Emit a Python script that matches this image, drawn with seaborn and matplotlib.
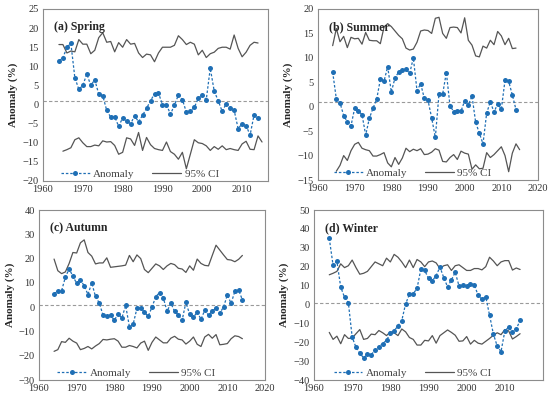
import numpy as np
import pandas as pd
import seaborn as sns
import matplotlib.pyplot as plt
from matplotlib.lines import Line2D

# years
years = list(range(1964, 2015))
years_lo_shift = list(range(1965, 2016))

# (a) Spring
spring_anom = [11.5, 12.2, 15.0, 16.0, 7.0, 4.0, 5.0, 8.0, 5.0, 6.5,
               2.7, 2.3, -1.5, -3.3, -3.2, -5.7, -3.5, -4.4, -5.0, -3.0,
               -4.5, -2.8, -1.0, 1.0, 2.8, 3.0, 0.0, 0.0, -2.5, -0.2,
               2.5, 1.3, -2.0, -1.8, -0.7, 1.6, 2.5, 1.3, 9.5, 3.5,
               1.0, -1.8, 0.2, -0.8, -1.5, -6.3, -5.0, -5.5, -8.0, -2.7, -3.5]
spring_up = [15.7, 15.7, 13.5, 14.0, 13.8, 17.0, 15.8, 15.8, 13.3, 14.2,
             17.5, 18.8, 16.3, 16.5, 13.8, 16.2, 15.0, 17.0, 15.8, 16.0,
             13.5, 12.3, 13.2, 13.0, 11.2, 13.5, 15.0, 15.0, 15.0, 15.5,
             18.0, 17.0, 15.7, 16.3, 15.8, 13.0, 14.2, 12.3, 13.3, 13.7,
             14.7, 15.0, 15.0, 14.5, 18.2, 14.7, 12.5, 13.7, 15.5, 16.3, 16.1]
spring_lo = [-12.2, -11.8, -11.3, -9.2, -8.7, -10.0, -11.0, -11.0, -10.6, -10.8,
             -9.5, -9.8, -9.7, -10.7, -13.0, -12.5, -8.7, -9.0, -10.7, -7.3,
             -12.0, -8.6, -10.5, -11.5, -11.8, -12.0, -9.8, -12.3, -13.0, -14.3,
             -12.5, -16.8, -13.0, -9.2, -10.0, -10.2, -10.8, -12.0, -11.0, -11.7,
             -10.8, -11.8, -11.5, -11.8, -12.0, -10.3, -9.6, -11.7, -11.8, -8.2, -9.8]

# (b) Summer
summer_anom = [7.1, 1.6, 0.8, -1.8, -3.1, -3.9, -0.3, -0.9, -1.6, -5.8,
               -2.4, -0.3, 1.5, 5.6, 5.2, 8.2, 3.0, 5.9, 7.1, 7.5,
               7.7, 6.8, 10.0, 3.3, 4.7, 1.7, 1.3, -2.3, -6.3, 2.6,
               2.6, 7.0, 0.2, -1.0, -0.8, -0.9, 1.2, 0.3, 2.2, -3.2,
               -5.4, -7.6, -1.3, 1.0, -1.1, 0.6, -0.5, 5.4, 5.2, 2.4, -0.6]
summer_up = [12.5, 16.0, 13.3, 14.4, 12.1, 14.2, 13.9, 14.0, 12.8, 15.2,
             13.6, 13.5, 13.5, 12.9, 16.3, 17.0, 16.4, 15.5, 14.6, 13.9,
             12.0, 11.6, 11.8, 13.2, 15.5, 15.7, 15.6, 15.0, 18.1, 18.3,
             15.0, 14.0, 16.2, 16.3, 16.2, 15.1, 18.2, 13.6, 12.6, 10.4,
             10.2, 12.4, 12.0, 13.6, 12.7, 15.4, 14.5, 12.7, 14.0, 11.9, 12.0]
summer_lo = [-13.2, -12.0, -10.0, -11.0, -9.0, -7.7, -7.3, -8.5, -8.8, -9.0,
             -10.1, -10.1, -9.8, -9.4, -11.5, -12.3, -10.4, -11.8, -10.5, -8.5,
             -9.2, -8.7, -9.0, -8.6, -9.8, -9.7, -9.3, -8.6, -8.9, -11.2,
             -11.3, -10.4, -9.8, -10.8, -9.1, -9.5, -9.7, -12.8, -11.9, -12.7,
             -12.6, -9.4, -10.4, -9.8, -9.0, -8.2, -10.0, -13.3, -9.5, -7.6, -8.8]

# (c) Autumn
autumn_anom = [5.5, 6.7, 6.8, 12.3, 15.8, 12.7, 9.8, 11.2, 8.8, 5.2,
               10.0, 4.4, 1.7, -3.3, -3.5, -3.3, -5.4, -2.8, -4.5, 0.7,
               -8.0, -7.0, -0.5, -0.2, -2.2, -3.7, 0.0, 4.3, 6.0, 3.8,
               -1.7, 1.6, -1.7, -3.2, -5.4, 2.0, -3.0, -4.2, -2.0, -5.0,
               -1.3, -3.3, -1.6, -0.4, -2.5, 0.1, 5.0, 1.6, 6.5, 7.0, 3.0]
autumn_up = [19.8, 15.0, 13.8, 14.5, 18.0, 22.5, 22.3, 26.5, 27.7, 22.5,
             21.0, 17.8, 18.2, 18.2, 20.3, 16.4, 16.6, 16.8, 17.0, 17.3,
             21.3, 18.7, 21.5, 20.0, 15.5, 14.2, 16.0, 17.8, 17.0, 15.5,
             17.0, 18.0, 17.5, 16.0, 15.7, 14.3, 17.0, 15.2, 19.8, 18.0,
             17.2, 17.0, 21.3, 25.5, 23.5, 21.5, 19.6, 19.4, 18.7, 19.7, 21.3]
autumn_lo = [-18.2, -17.5, -14.2, -14.5, -12.8, -14.0, -14.8, -17.5, -17.0, -16.2,
             -17.2, -16.0, -15.0, -13.3, -13.5, -13.2, -13.0, -14.0, -16.5, -16.5,
             -15.8, -16.2, -16.8, -14.8, -14.0, -17.8, -14.5, -12.3, -13.5, -14.7,
             -14.7, -12.8, -12.0, -13.2, -13.5, -15.2, -14.0, -12.3, -15.3, -16.2,
             -12.3, -11.2, -12.8, -11.3, -15.5, -15.3, -15.0, -13.0, -11.8, -12.1, -13.0]

# (d) Winter
winter_anom = [35.0, 20.7, 22.8, 9.2, 3.8, 1.0, -17.3, -22.7, -25.8, -28.3,
               -26.3, -26.5, -24.3, -22.3, -20.7, -19.0, -15.3, -14.0, -11.3, -8.5,
               0.3, 5.3, 5.7, 8.5, 18.7, 18.0, 13.8, 12.5, 15.3, 19.8,
               14.2, 9.3, 13.0, 17.0, 9.8, 10.3, 9.8, 11.0, 10.4, 4.8,
               2.8, 4.0, -5.7, -15.7, -22.0, -25.0, -14.0, -12.0, -14.6, -13.0, -8.4]
winter_up = [15.7, 16.5, 17.5, 21.5, 19.5, 20.5, 23.5, 19.5, 16.0, 16.5,
             17.5, 20.0, 22.5, 21.5, 20.5, 24.5, 22.5, 26.5, 25.0, 22.5,
             19.5, 23.5, 19.5, 23.8, 22.5, 20.0, 22.5, 23.0, 22.0, 19.0,
             20.5, 21.0, 18.0, 20.5, 21.0, 19.5, 18.0, 18.0, 19.0, 19.0,
             18.3, 20.0, 25.0, 23.0, 20.5, 22.5, 23.2, 23.2, 18.2, 19.3, 18.5]
winter_lo = [-14.8, -18.5, -16.8, -20.8, -16.0, -18.0, -17.8, -15.5, -13.3, -18.5,
             -18.0, -15.7, -16.0, -13.8, -15.0, -16.5, -14.5, -15.0, -16.5, -13.0,
             -14.5, -17.5, -18.5, -21.5, -21.5, -19.0, -19.3, -16.5, -20.5, -16.5,
             -15.0, -13.5, -14.8, -16.3, -19.5, -19.3, -17.0, -21.0, -19.0, -20.5,
             -21.0, -19.5, -18.0, -16.3, -15.0, -16.0, -13.3, -14.0, -18.3, -17.0, -15.5]

titles = ["(a) Spring", "(b) Summer", "(c) Autumn", "(d) Winter"]
ylims = [(-20, 25, 5), (-15, 20, 5), (-30, 40, 10), (-40, 50, 10)]
xmax = [2016.5, 2020, 2020, 2020]
xticks = [range(1960, 2011, 10), range(1960, 2021, 10),
          range(1960, 2021, 10), range(1960, 2011, 10)]

panels = [
    (spring_anom, spring_up, spring_lo, years_lo_shift),
    (summer_anom, summer_up, summer_lo, years_lo_shift),
    (autumn_anom, autumn_up, autumn_lo, years),
    (winter_anom, winter_up, winter_lo, years),
]

sns.set_style("white")
plt.rcParams['font.family'] = ['Liberation Serif', 'DejaVu Serif']

blue = "#1f6fb5"
gray = "#555555"

fig = plt.figure(figsize=(5.5, 3.97), dpi=100)
# axes rects in pixels: left, top, right, bottom
rects = [(43, 9, 268, 181), (318, 9, 538, 180), (39, 210, 265, 380), (314, 210, 543, 380)]

for i, (anom, up, lo, lo_years) in enumerate(panels):
    l, t, r, b = rects[i]
    ax = fig.add_axes([l / 550, 1 - b / 397, (r - l) / 550, (b - t) / 397])

    sns.lineplot(x=years, y=up, ax=ax, color=gray, linewidth=0.9)
    sns.lineplot(x=lo_years, y=lo, ax=ax, color=gray, linewidth=0.9)
    ax.axhline(1, color="#9a9a9a", linestyle=(0, (3, 2)), linewidth=0.8)
    sns.lineplot(x=years, y=anom, ax=ax, color=blue, linewidth=0.9,
                 linestyle=(0, (2, 1.5)), marker="o", markersize=3.6,
                 markeredgewidth=0, markeredgecolor=blue)

    y0, y1, step = ylims[i]
    ax.set_ylim(y0, y1)
    ax.set_yticks(range(y0, y1 + 1, step))
    ax.set_xlim(1960, xmax[i])
    ax.set_xticks(list(xticks[i]))
    ax.tick_params(axis="both", labelsize=7.5, length=0, pad=3, colors="#333333")
    ax.set_ylabel("Anomaly (%)", fontsize=8, fontweight="bold", labelpad=3)
    ax.set_xlabel("")
    for s in ax.spines.values():
        s.set_color("#8c8c8c")
        s.set_linewidth(0.8)

    ax.text(0.05, 0.93, titles[i], transform=ax.transAxes, fontsize=8.5,
            fontweight="bold", va="top", ha="left")

    handles = [
        Line2D([], [], color=blue, linestyle=(0, (2, 1.5)), linewidth=0.9,
               marker="o", markersize=3.6, markeredgewidth=0),
        Line2D([], [], color=gray, linewidth=0.9),
    ]
    ax.legend(handles, ["Anomaly", "95% CI"], loc="lower center", ncol=2,
              frameon=False, fontsize=8, handlelength=2.6, columnspacing=1.6,
              handletextpad=0.3, borderaxespad=0.1, bbox_to_anchor=(0.43, -0.02),
              labelcolor="#444444")

fig.savefig("out.png", dpi=100)
